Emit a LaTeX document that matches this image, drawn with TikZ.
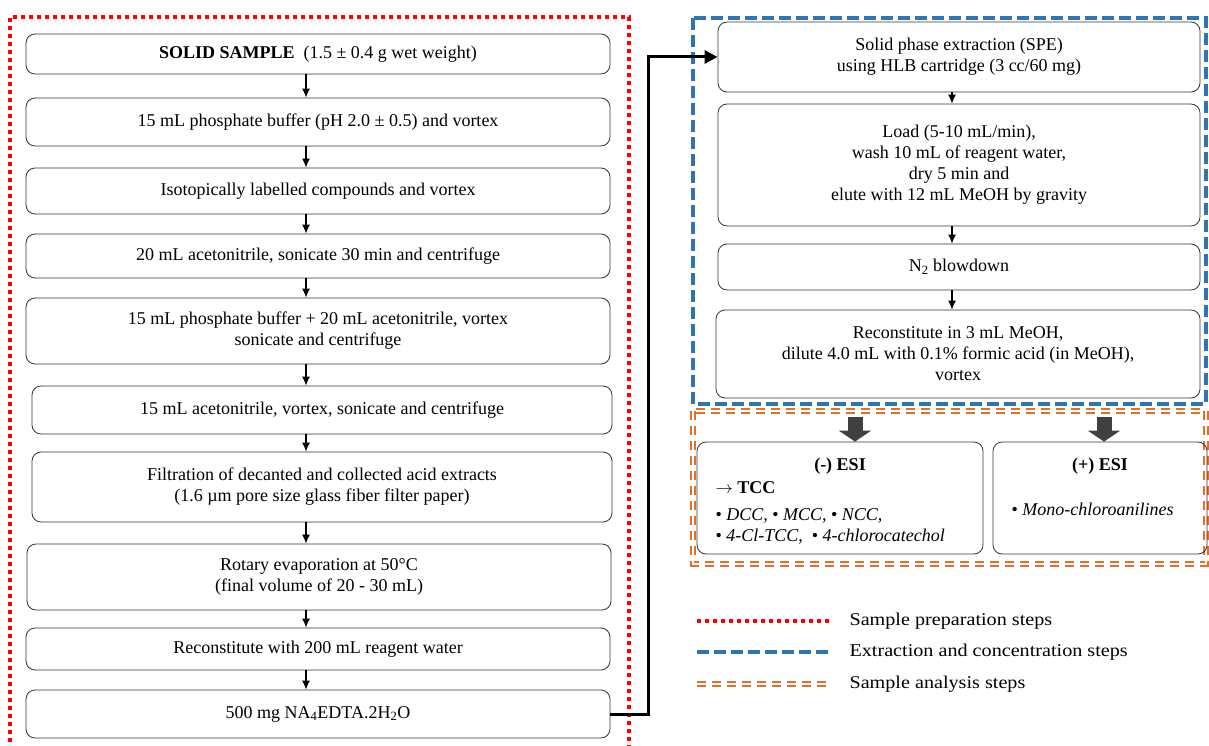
\documentclass[tikz,border=0pt]{standalone}
\usepackage{fontspec}
\setmainfont{Liberation Serif}
\newfontfamily\legendfont[FakeStretch=1.12]{Liberation Serif}
\usetikzlibrary{arrows.meta}
\definecolor{prepred}{HTML}{FF0000}
\definecolor{extblue}{HTML}{2E75B6}
\definecolor{anaorange}{HTML}{E2702A}
\definecolor{headgray}{HTML}{404040}

\begin{document}
\begin{tikzpicture}[x=1pt, y=-1pt, font=\fontsize{18}{21}\selectfont,
        stepbox/.style={draw=black!80, line width=0.8pt, rounded corners=9pt, align=center, inner sep=2pt},
        leftbox/.style={stepbox, minimum width=584pt},
        rightbox/.style={stepbox, minimum width=482pt},
        esibox/.style={stepbox, minimum height=112pt},
        smallarrow/.style={-{Latex[length=9pt,width=8pt]}, line width=1.2pt},
        feedline/.style={line width=3pt, -{Triangle[length=13pt,width=13pt]}},
        bigarrow/.style={draw=headgray, line width=15pt, -{Triangle[length=11pt,width=32pt]}},
        prepline/.style={draw=prepred, line width=4pt, dash pattern=on 4pt off 4pt},
        extline/.style={draw=extblue, line width=4pt, dash pattern=on 12pt off 5pt},
        analine/.style={draw=anaorange, line width=1.8pt, double=white, double distance=2pt, dash pattern=on 9pt off 6pt}]
        \useasboundingbox (0,0) rectangle (1209,746);

        \draw[prepline] (10,750) -- (10,17) -- (629,17) -- (629,750);
        \draw[extline] (693,18) rectangle (1206,404);
        \draw[analine] (693,411) rectangle (1206,564);

        \node[leftbox, minimum height=40pt] (b1) at (318,54) {\textbf{SOLID SAMPLE}\ \ (1.5 ± 0.4 g wet weight)};
        \node[leftbox, minimum height=48pt] (b2) at (318,122) {15 mL phosphate buffer (pH 2.0 ± 0.5) and vortex};
        \node[leftbox, minimum height=46pt] (b3) at (318,191) {Isotopically labelled compounds and vortex};
        \node[leftbox, minimum height=44pt] (b4) at (318,256) {20 mL acetonitrile, sonicate 30 min and centrifuge};
        \node[leftbox, minimum height=66pt] (b5) at (318,331) {15 mL phosphate buffer + 20 mL acetonitrile, vortex\\sonicate and centrifuge};
        \node[leftbox, minimum width=580pt, minimum height=48pt] (b6) at (322,410) {15 mL acetonitrile, vortex, sonicate and centrifuge};
        \node[leftbox, minimum width=580pt, minimum height=70pt] (b7) at (322,487) {Filtration of decanted and collected acid extracts\\(1.6 µm pore size glass fiber filter paper)};
        \node[leftbox, minimum height=66pt] (b8) at (319,577) {Rotary evaporation at 50°C\\(final volume of 20 - 30 mL)};
        \node[leftbox, minimum height=42pt] (b9) at (318,649) {Reconstitute with 200 mL reagent water};
        \node[leftbox, minimum height=48pt] (b10) at (318,714) {500 mg NA\textsubscript{4}EDTA.2H\textsubscript{2}O};

        \coordinate (leftaxis) at (306,0);
        \foreach \a/\b in {b1/b2, b2/b3, b3/b4, b4/b5, b5/b6, b6/b7, b7/b8, b8/b9, b9/b10}
            \draw[smallarrow] (leftaxis |- \a.south) -- (leftaxis |- \b.north);

        \node[rightbox, minimum height=70pt] (spe) at (959,57) {Solid phase extraction (SPE)\\using HLB cartridge (3 cc/60 mg)};
        \node[rightbox, minimum height=122pt] (load) at (959,165) {Load (5-10 mL/min),\\wash 10 mL of reagent water,\\dry 5 min and\\elute with 12 mL MeOH by gravity};
        \node[rightbox, minimum height=46pt] (blow) at (959,267) {N\textsubscript{2} blowdown};
        \node[rightbox, minimum width=484pt, minimum height=88pt] (recon) at (958,354) {Reconstitute in 3 mL MeOH,\\dilute 4.0 mL with 0.1\% formic acid (in MeOH),\\vortex};

        \coordinate (rightaxis) at (952,0);
        \foreach \a/\b in {spe/load, load/blow, blow/recon}
            \draw[smallarrow] (rightaxis |- \a.south) -- (rightaxis |- \b.north);

        \coordinate (bend) at (648,0);
        \draw[feedline] (b10.east) -- (b10.east -| bend) |- (spe.west);

        \node[esibox, minimum width=286pt] (neg) at (840,498) {};
        \node[esibox, minimum width=214pt] (pos) at (1100,498) {};
        \coordinate (negtop) at (855,417);
        \coordinate (postop) at (1104,417);
        \draw[bigarrow] (negtop) -- (negtop |- neg.north);
        \draw[bigarrow] (postop) -- (postop |- pos.north);

        \node[font=\fontsize{18}{21}\selectfont\bfseries] (negtitle) at (840,466) {(-) ESI};
        \node[font=\fontsize{18}{21}\selectfont\bfseries, anchor=west] (tcc) at (712,488) {$\rightarrow$ TCC};
        \node[anchor=west, align=left] (neglist) at (712,526) {• \textit{DCC,} • \textit{MCC,} • \textit{NCC,}\\• \textit{4-Cl-TCC,}\ \ • \textit{4-chlorocatechol}};
        \node[font=\fontsize{18}{21}\selectfont\bfseries] (postitle) at (1100,466) {(+) ESI};
        \node[anchor=west] (poslist) at (1008,509) {• \textit{Mono-chloroanilines}};

        \node[anchor=west, font=\fontsize{18}{21}\legendfont] (leg1) at (846,621) {Sample preparation steps};
        \node[anchor=west, font=\fontsize{18}{21}\legendfont] (leg2) at (846,652) {Extraction and concentration steps};
        \node[anchor=west, font=\fontsize{18}{21}\legendfont] (leg3) at (846,684) {Sample analysis steps};
        \draw[prepline] (697,621) -- (829,621);
        \draw[extline] (697,652) -- (829,652);
        \draw[analine] (697,684) -- (829,684);
    \end{tikzpicture}
\end{document}
